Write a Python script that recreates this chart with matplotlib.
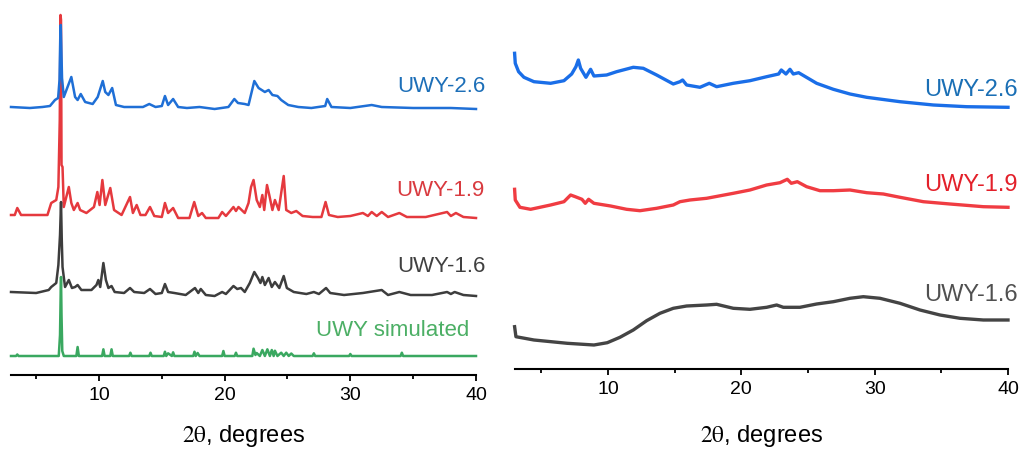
import matplotlib
matplotlib.use("Agg")
import matplotlib.pyplot as plt

plt.rcParams['font.family'] = ['Liberation Sans', 'DejaVu Sans']
plt.rcParams['mathtext.fontset'] = 'stix'

# ---------------- left panel: crystalline patterns (2theta, intensity a.u., stacked) -------------
uwy26_x = [3.0, 4.5, 5.5, 6.1, 6.5, 6.75, 6.86, 6.93, 6.96, 7.0, 7.06, 7.2, 7.5, 7.8, 8.1, 8.3, 8.55,
           8.9, 9.5, 9.9, 10.3, 10.5, 10.75, 11.05, 11.35, 12.0, 13.5, 14.0, 14.5, 15.0, 15.25, 15.5,
           15.9, 16.3, 17.0, 18.0, 19.2, 20.3, 20.77, 21.06, 21.6, 21.9, 22.36, 22.7, 22.95, 23.2,
           23.5, 23.8, 24.2, 24.5, 25.06, 25.86, 26.9, 28.0, 28.16, 28.5, 30.0, 31.7, 32.5, 35.0,
           38.0, 40.0]
uwy26_y = [268, 267, 268, 269, 275, 277, 295, 345, 350, 330, 297, 278, 288, 298, 278, 275, 281,
           273, 271, 278, 294, 283, 280, 287, 270, 268, 268, 271, 268, 269, 279, 270,
           276, 268, 267, 268, 266, 268, 276, 272, 271, 270, 294, 287, 285, 283,
           285, 280, 279, 275, 270, 268, 267, 269, 276, 268, 267, 270, 268, 267,
           267, 266]

uwy19_x = [3.0, 3.3, 3.5, 3.8, 5.9, 6.2, 6.6, 6.77, 6.88, 6.94, 6.98, 7.02, 7.1, 7.2, 7.6, 7.8,
           8.0, 8.3, 8.5, 9.0, 9.6, 9.87, 10.05, 10.27, 10.5, 10.9, 11.2, 11.8, 12.47, 12.7, 13.0,
           13.3, 13.7, 14.06, 14.4, 15.0, 15.25, 15.5, 15.9, 16.3, 17.2, 17.58, 17.9, 18.2, 18.5,
           19.5, 19.8, 20.1, 20.7, 20.9, 21.1, 21.6, 21.9, 22.1, 22.3, 22.55, 22.8, 23.0, 23.15,
           23.37, 23.55, 23.8, 24.0, 24.3, 24.7, 24.9, 25.3, 25.7, 26.2, 27.0, 27.7, 28.03, 28.3,
           29.0, 30.0, 31.0, 31.4, 31.7, 32.1, 32.5, 33.0, 33.9, 34.5, 36.0, 37.7, 38.0, 38.4,
           39.0, 40.0]
uwy19_y = [160, 160, 167, 160, 160, 172, 175, 188, 255, 360, 355, 210, 208, 168, 188, 172,
           165, 172, 165, 162, 168, 183, 170, 195, 170, 187, 165, 160, 178, 162, 170,
           160, 160, 168, 159, 158, 172, 162, 167, 157, 157, 173, 159, 162, 157,
           157, 163, 159, 168, 164, 168, 162, 172, 188, 195, 175, 168, 180, 165,
           190, 180, 165, 175, 165, 199, 165, 162, 164, 159, 158, 158, 173, 160,
           158, 159, 162, 159, 163, 159, 163, 158, 162, 158, 158, 163, 159, 162,
           158, 157]

uwy16_x = [3.0, 5.0, 6.0, 6.2, 6.6, 6.77, 6.9, 6.98, 7.04, 7.1, 7.3, 7.6, 7.85, 8.1, 8.3, 8.6,
           9.4, 9.8, 9.95, 10.1, 10.35, 10.55, 10.75, 11.0, 11.25, 12.0, 12.47, 12.8, 13.6, 14.06,
           14.5, 15.0, 15.25, 15.5, 16.0, 16.9, 17.64, 17.9, 18.1, 18.5, 19.2, 19.8, 20.1, 20.7,
           21.0, 21.3, 21.6, 22.0, 22.36, 22.65, 22.85, 23.0, 23.2, 23.5, 23.75, 24.0, 24.35,
           24.7, 24.95, 25.5, 26.5, 27.1, 27.5, 28.07, 28.4, 29.5, 31.0, 32.5, 33.0, 33.9, 34.8,
           36.5, 37.7, 38.0, 38.3, 39.0, 40.0]
uwy16_y = [83, 82, 85, 88, 92, 110, 140, 173, 135, 108, 88, 95, 87, 88, 90, 85,
           85, 90, 95, 88, 112, 95, 87, 89, 83, 82, 87, 83, 82, 86,
           81, 82, 91, 83, 82, 80, 87, 82, 86, 80, 79, 83, 81, 89,
           86, 87, 83, 92, 103, 97, 92, 98, 90, 97, 88, 93, 87,
           99, 87, 83, 81, 83, 81, 87, 82, 80, 82, 85, 80, 83, 80,
           80, 83, 81, 83, 80, 79]

sim_x = [3.0, 3.4, 3.5, 3.6, 6.8, 6.9, 6.95, 6.98, 7.02, 7.08, 7.2, 8.2, 8.3, 8.4, 10.25, 10.35,
         10.45, 10.9, 11.0, 11.1, 12.4, 12.5, 12.6, 14.0, 14.1, 14.2, 15.15, 15.25, 15.35, 15.5,
         15.8, 15.9, 16.0, 17.5, 17.6, 17.7, 17.85, 18.0, 19.8, 19.9, 20.0, 20.8, 20.9, 21.0,
         22.2, 22.3, 22.45, 22.55, 22.8, 23.0, 23.2, 23.4, 23.6, 23.75, 23.9, 24.0, 24.2, 24.5,
         24.7, 24.9, 25.1, 25.3, 25.5, 27.0, 27.1, 27.2, 29.9, 30.0, 30.1, 34.0, 34.1, 34.2,
         40.0]
sim_y = [19, 19, 20.5, 19, 19, 40, 80, 98, 60, 24, 19, 19, 28, 19, 19, 25.7,
         19, 19, 25.7, 19, 19, 22.3, 19, 19, 22.3, 19, 19, 23.3, 19, 21.7,
         19, 22.7, 19, 19, 23.3, 19, 22, 19, 19, 24, 19, 19, 22.3, 19,
         19, 26.3, 20, 22, 19, 25, 19, 25.7, 19, 25, 19, 24.3, 19, 22.3,
         19, 22.3, 19, 21.5, 19, 19, 21.7, 19, 19, 21, 19, 19, 22.3, 19,
         19]

# ---------------- right panel: amorphous patterns -------------
r26_x = [3.0, 3.05, 3.3, 3.7, 4.45, 5.7, 6.7, 7.28, 7.6, 7.78, 7.95, 8.35, 8.7, 8.95, 9.9, 10.65,
         11.9, 12.65, 13.65, 14.9, 15.4, 15.6, 15.9, 16.9, 17.6, 18.15, 19.4, 20.65, 21.9, 22.8,
         23.0, 23.35, 23.65, 23.9, 24.3, 25.65, 26.9, 28.15, 29.4, 31.9, 34.4, 36.9, 40.0]
r26_y = [315.7, 305.7, 297.3, 291.7, 287.3, 285.7, 288.3, 295, 302.3, 309, 300.7, 291.7, 299.7,
         293, 294, 297.3, 301.7, 300.7, 294, 285, 287.3, 289, 284, 281.7, 285.7, 282.3, 285.7,
         288.3, 292.3, 295, 299, 295, 299.7, 295, 296.3, 285.7, 279.7, 275, 271.7, 267.3, 264,
         262.3, 261.7]

r19_x = [3.0, 3.05, 3.4, 4.2, 5.7, 6.7, 7.2, 7.55, 8.05, 8.3, 8.55, 8.95, 10.2, 11.4, 12.4, 13.65,
         14.9, 15.4, 16.15, 17.4, 19.4, 20.65, 21.9, 22.9, 23.45, 23.75, 24.2, 24.9, 25.9, 26.9,
         28.15, 29.4, 30.65, 31.9, 33.65, 35.65, 38.15, 40.0]
r19_y = [179.7, 169, 161.7, 159.7, 164, 167.3, 174, 172.3, 169.7, 165.7, 169.7, 165.7, 163, 159.7,
         158.3, 160.7, 164, 167.3, 169, 170.7, 175.7, 179, 184, 186.3, 189.7, 185.7, 187.3, 182.3,
         178.3, 178.3, 179, 176.3, 175, 171.7, 167.3, 165, 162.3, 161.7]

r16_x = [3.0, 3.1, 4.45, 6.95, 8.95, 9.95, 10.9, 11.9, 12.9, 13.9, 14.9, 15.9, 17.4, 18.15, 19.4,
         20.65, 21.9, 22.65, 23.15, 24.4, 25.65, 26.9, 28.15, 29.15, 30.4, 31.9, 33.4, 34.9, 36.4,
         38.15, 40.0]
r16_y = [42.3, 32.3, 29, 25.7, 24, 26.3, 31.7, 39, 48.3, 55.7, 60.7, 63, 64, 64.7, 60.7, 59.7,
         61.7, 64, 61.7, 61.7, 65, 67.3, 70.7, 72.3, 70.7, 65.7, 59, 54, 50.7, 49, 49]

left_labels = ["UWY-2.6", "UWY-1.9", "UWY-1.6", "UWY simulated"]
right_labels = ["UWY-2.6", "UWY-1.9", "UWY-1.6"]
xticks_major = [10, 20, 30, 40]
xticks_minor = [5, 15, 25, 35]

# colours
c_blue = "#1f6fd6"
c_red = "#e5393e"
c_grey = "#3d3d3d"
c_green = "#3aa860"
c_blue_r = "#1a6ee8"
c_red_r = "#f03c42"
c_grey_r = "#444444"

W, H = 1035, 450
fig = plt.figure(figsize=(W / 100, H / 100), dpi=100)
axL = fig.add_axes([11 / W, 75 / H, 465 / W, 375 / H])
axR = fig.add_axes([514.6 / W, 81 / H, 493.4 / W, 369 / H])

axL.plot(uwy19_x, uwy19_y, color=c_red, lw=1.8, zorder=2, clip_on=False)
axL.plot(uwy26_x, uwy26_y, color=c_blue, lw=1.8, zorder=3, clip_on=False)
axL.plot(uwy16_x, uwy16_y, color=c_grey, lw=1.8, zorder=4, clip_on=False)
axL.plot(sim_x, sim_y, color=c_green, lw=1.8, zorder=5, clip_on=False)
axL.set_ylim(0, 375)

axR.plot(r26_x, r26_y, color=c_blue_r, lw=2.4, clip_on=False)
axR.plot(r19_x, r19_y, color=c_red_r, lw=2.4, clip_on=False)
axR.plot(r16_x, r16_y, color=c_grey_r, lw=2.4, clip_on=False)
axR.set_ylim(0, 369)

for ax, lpad in ((axL, 14), (axR, 18)):
    ax.set_xlim(3, 40)
    for s in ("left", "right", "top"):
        ax.spines[s].set_visible(False)
    ax.spines["bottom"].set_linewidth(1.5)
    ax.set_yticks([])
    ax.set_xticks(xticks_major)
    ax.set_xticks(xticks_minor, minor=True)
    ax.tick_params(axis="x", which="major", direction="out", length=4.5, width=1.3,
                   labelsize=14, pad=4)
    ax.tick_params(axis="x", which="minor", direction="out", length=3, width=1.3)
    ax.set_xlabel(r"$\mathrm{2\theta}$, degrees", fontsize=17, labelpad=lpad)
    ax.patch.set_alpha(0)

# left labels
lab_fs = 16
axL.text(40.75, 288, left_labels[0], color="#1d6fb8", fontsize=lab_fs, ha="right", va="center")
axL.text(40.7, 185, left_labels[1], color="#d93a3f", fontsize=lab_fs, ha="right", va="center")
axL.text(40.75, 108, left_labels[2], color="#404040", fontsize=lab_fs, ha="right", va="center")
axL.text(39.45, 44, left_labels[3], color="#4caf65", fontsize=lab_fs, ha="right", va="center")

# right labels
axR.text(40.75, 279, right_labels[0], color="#1a6fb5", fontsize=17, ha="right", va="center")
axR.text(40.75, 184, right_labels[1], color="#e3202a", fontsize=17, ha="right", va="center")
axR.text(40.75, 74, right_labels[2], color="#505050", fontsize=17, ha="right", va="center")

fig.savefig("out.png", dpi=100)
